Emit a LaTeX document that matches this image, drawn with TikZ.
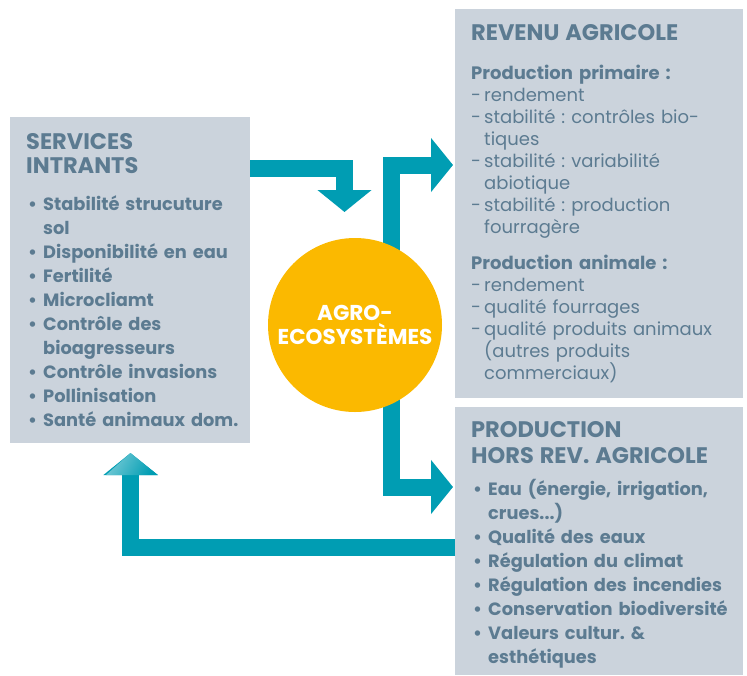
\documentclass[tikz,border=0pt]{standalone}
\usepackage{fontspec}
\setmainfont{Poppins}
\usetikzlibrary{arrows.meta,positioning}

\definecolor{boxgray}{HTML}{CBD3DC}
\definecolor{txtblue}{HTML}{5C7B91}
\definecolor{flowteal}{HTML}{009DB3}
\definecolor{sunyellow}{HTML}{FBB900}

\frenchspacing
\newcommand{\itm}[1]{\makebox[17pt][l]{\hspace{2pt}\textbullet}#1}
\newcommand{\cnt}[1]{\hspace*{17pt}#1}
\newcommand{\dsh}[1]{\makebox[13pt][l]{-}#1}
\newcommand{\dcnt}[1]{\hspace*{13pt}#1}
\newcommand{\hd}[1]{{\fontsize{22.5}{24}\selectfont\bfseries #1}}

\begin{document}
\begin{tikzpicture}[x=1pt,y=-1pt,
	box/.style={fill=boxgray,anchor=north west,inner sep=0pt},
	txt/.style={anchor=base west,inner sep=0pt,text width=275pt,align=left,text=txtblue},
	flow/.style={line width=17pt,draw=flowteal,-{Triangle[width=53pt,length=22pt]}}]

	\useasboundingbox (0,0) rectangle (747,675);

	% boxes
	\node[box,minimum width=240pt,minimum height=326pt] (services) at (10,117) {};
	\node[box,minimum width=288pt,minimum height=389pt] (revenu) at (455,9) {};
	\node[box,minimum width=288pt,minimum height=268pt] (horsrev) at (455,407) {};

	% texts
	\node[txt,font=\fontsize{17.8}{24}\selectfont\bfseries] (servtxt) at (26,149) {%
		\hd{SERVICES}\\ \hd{INTRANTS}\\[13pt]
		\itm{Stabilité strucuture}\\ \cnt{sol}\\
		\itm{Disponibilité en eau}\\ \itm{Fertilité}\\ \itm{Microcliamt}\\
		\itm{Contrôle des}\\ \cnt{bioagresseurs}\\
		\itm{Contrôle invasions}\\ \itm{Pollinisation}\\ \itm{Santé animaux dom.}};

	\node[txt,font=\fontsize{18}{22}\selectfont] (revtxt) at (471,40) {%
		\hd{REVENU AGRICOLE}\\[17pt]
		\textbf{Production primaire :}\\
		\dsh{rendement}\\
		\dsh{stabilité : contrôles bio-}\\ \dcnt{tiques}\\
		\dsh{stabilité : variabilité}\\ \dcnt{abiotique}\\
		\dsh{stabilité : production}\\ \dcnt{fourragère}\\[14pt]
		\textbf{Production animale :}\\
		\dsh{rendement}\\ \dsh{qualité fourrages}\\
		\dsh{qualité produits animaux}\\ \dcnt{(autres produits}\\ \dcnt{commerciaux)}};

	\node[txt,font=\fontsize{17.8}{24}\selectfont\bfseries] (horstxt) at (471,437) {%
		\hd{PRODUCTION}\\[2pt] \hd{HORS REV. AGRICOLE}\\[8pt]
		\itm{Eau (énergie, irrigation,}\\ \cnt{crues...)}\\
		\itm{Qualité des eaux}\\ \itm{Régulation du climat}\\
		\itm{Régulation des incendies}\\ \itm{Conservation biodiversité}\\
		\itm{Valeurs cultur. \&}\\ \cnt{esthétiques}};

	% arrows
	\coordinate (inTip) at (344.5,212);
	\coordinate (trunk) at (391.5,487);
	\coordinate (outTip) at (130.5,453);

	\draw[flow] ([yshift=-51pt]services.north east) -| (inTip);
	\draw[flow,{Triangle[width=53pt,length=22pt]}-{Triangle[width=53pt,length=22pt]}]
		([xshift=-2pt,yshift=-156pt]revenu.north west) -| (trunk)
		-- ([xshift=-2pt,yshift=-80pt]horsrev.north west);
	\draw[flow] ([yshift=-140pt]horsrev.north west) -| (outTip);
	\shade[left color=flowteal!55!white,right color=flowteal,shading angle=60]
		(106,475) -- (outTip) -- (158,475) -- cycle;

	% centre
	\node[circle,fill=sunyellow,minimum size=174pt,inner sep=0pt,text=white,
		align=center,font=\fontsize{21.5}{24}\selectfont\bfseries] (agro) at (355,325)
		{AGRO-\\ECOSYSTÈMES};

\end{tikzpicture}
\end{document}
